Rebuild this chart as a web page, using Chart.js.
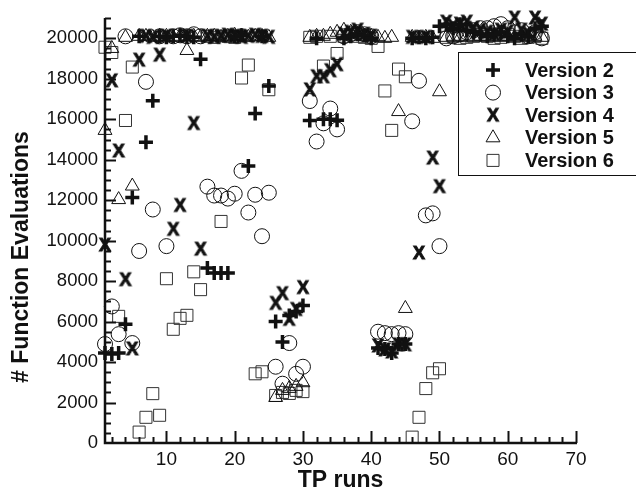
<!DOCTYPE html>
<html>
<head>
<meta charset="utf-8">
<script src="https://cdn.jsdelivr.net/npm/chart.js@4.4.1/dist/chart.umd.min.js"></script>
<style>
    html, body { margin: 0; padding: 0; background: #fff; }
    #wrap { width: 636px; height: 496px; position: relative; }
</style>
</head>
<body>
<div id="wrap"><canvas id="evalChart"></canvas></div>
<script>
// TP runs (asse X)
const runs = [1, 2, 3, 4, 5, 6, 7, 8, 9, 10, 11, 12, 13, 14, 15, 16, 17, 18, 19, 20,
    21, 22, 23, 24, 25, 26, 27, 28, 29, 30, 31, 32, 33, 34, 35, 36, 37, 38, 39, 40,
    41, 42, 43, 44, 45, 46, 47, 48, 49, 50, 51, 52, 53, 54, 55, 56, 57, 58, 59, 60,
    61, 62, 63, 64, 65];

const versionNames = ['Version 2', 'Version 3', 'Version 4', 'Version 5', 'Version 6'];

// valori (un valore per ogni run)
const version2 = [4450, 4400, 4450, 5870, 12130, 20100, 14870, 16920, 20100, 20050,
    20100, 20150, 20100, 20050, 18970, 8650, 8400, 8400, 8400, 20100,
    20150, 13690, 16280, 20100, 17650, 6010, 4990, 6300, 6500, 6800,
    15940, 20000, 16000, 16000, 15950, 20000, 20100, 20200, 20150, 20000,
    4700, 4650, 4450, 4890, 4890, 20000, 20050, 20000, 20050, 20600,
    20700, 20500, 20700, 20400, 20300, 20200, 20100, 20200, 20300, 20100,
    20000, 20200, 20100, 20500, 20600];
const version3 = [4890, 6750, 5380, 20100, 4940, 9490, 17850, 11540, 20100, 9730,
    20100, 20150, 20100, 20200, 20100, 12670, 12230, 12230, 12080, 12320,
    13450, 11390, 12270, 10220, 12370, 3770, 2930, 4940, 3420, 3770,
    16900, 14900, 15800, 16530, 15500, 20100, 20200, 20300, 20200, 20100,
    5500, 5430, 5380, 5430, 5380, 15900, 17900, 11250, 11350, 9730,
    20000, 20100, 20200, 20300, 20400, 20500, 20500, 20600, 20700, 20500,
    20300, 20400, 20100, 20300, 20000];
const version4 = [9780, 17900, 14430, 8070, 4650, 18920, 20100, 20050, 19170, 20100,
    10560, 11740, 20100, 15790, 9580, 20100, 20050, 20100, 20150, 20100,
    20050, 20100, 20150, 20100, 20050, 6900, 7380, 6110, 6600, 7680,
    17450, 18100, 18100, 18400, 18700, 20200, 20300, 20400, 20200, 20100,
    4800, 4600, 4500, 4850, 4850, 20050, 9390, 20050, 14080, 12670,
    20800, 20600, 20700, 20800, 20500, 20400, 20300, 20200, 20400, 20300,
    21000, 20400, 20200, 21000, 20700];
const version5 = [15450, 19500, 12030, 20050, 12700, 20100, 20100, 20050, 20100, 20100,
    20050, 20100, 19400, 20100, 20050, 20100, 20100, 20050, 20100, 20150,
    20100, 20050, 20100, 20100, 20050, 2250, 2600, 2700, 2800, 2980,
    20050, 20100, 20100, 20200, 20300, 20400, 20300, 20200, 20100, 20100,
    20050, 20000, 20050, 16380, 6650, 20050, 20000, 20050, 20000, 17360,
    20050, 20100, 20050, 20100, 20050, 20100, 20050, 20100, 20050, 20100,
    20050, 20100, 20050, 20100, 20050];
const version6 = [19560, 19300, 6260, 15940, 18580, 540, 1270, 2440, 1370, 8120,
    5620, 6160, 6310, 8460, 7580, 20100, 20050, 10950, 20100, 20050,
    18040, 18680, 3420, 3520, 17460, 2350, 2500, 2450, 2600, 2540,
    20050, 20100, 18630, 20100, 19250, 20100, 20200, 20100, 20050, 20000,
    19600, 17400, 15450, 18480, 18100, 290, 1270, 2690, 3470, 3670,
    20050, 20100, 20000, 20050, 20100, 20200, 20100, 20000, 20050, 20200,
    20100, 20000, 20050, 20100, 20000];

// etichette degli assi
const xTicks = [10, 20, 30, 40, 50, 60, 70];
const yTicks = [0, 2000, 4000, 6000, 8000, 10000, 12000, 14000, 16000, 18000, 20000];

const FONT = "'Liberation Sans', Arial, Helvetica, sans-serif";

// la "X" del grafico è un carattere in grassetto, la disegno su un canvas
function makeXMarker() {
    const c = document.createElement('canvas');
    c.width = 18;
    c.height = 20;
    const g = c.getContext('2d');
    g.fillStyle = '#111';
    g.strokeStyle = '#111';
    g.lineWidth = 1;
    g.font = 'bold 18px ' + FONT;
    g.textAlign = 'center';
    g.textBaseline = 'middle';
    g.fillText('X', 9, 11);
    g.strokeText('X', 9, 11);
    return c;
}

function toPoints(values) {
    return values.map((v, i) => ({ x: runs[i], y: v }));
}

// Plugin: assi con tacche verso l'interno (come nel grafico originale)
const axesPlugin = {
    id: 'insideAxes',
    afterDraw(chart) {
        const ctx = chart.ctx;
        const xs = chart.scales.x;
        const ys = chart.scales.y;
        const x0 = xs.getPixelForValue(1);
        const y0 = ys.getPixelForValue(0);
        ctx.save();
        ctx.strokeStyle = '#111';
        ctx.lineCap = 'butt';

        // tacche asse Y
        ctx.lineWidth = 2;
        for (let v = 500; v <= 21000; v += 500) {
            const py = Math.round(ys.getPixelForValue(v)) + 0.5;
            const len = v % 2000 === 0 ? 11 : 6;
            ctx.beginPath();
            ctx.moveTo(x0, py);
            ctx.lineTo(x0 + len, py);
            ctx.stroke();
        }
        // tacche asse X
        for (let v = 2; v <= 70; v += 2) {
            const px = Math.round(xs.getPixelForValue(v)) + 0.5;
            const len = v % 10 === 0 ? 12 : 6;
            ctx.beginPath();
            ctx.moveTo(px, y0);
            ctx.lineTo(px, y0 - len);
            ctx.stroke();
        }

        // linee degli assi
        ctx.lineWidth = 2.5;
        ctx.beginPath();
        ctx.moveTo(x0, ys.getPixelForValue(21000));
        ctx.lineTo(x0, y0);
        ctx.lineTo(xs.getPixelForValue(70) + 1, y0);
        ctx.stroke();

        // titolo asse Y (spostato verso il basso come nell'originale)
        ctx.save();
        ctx.translate(22, 257);
        ctx.rotate(-Math.PI / 2);
        ctx.fillStyle = '#111';
        ctx.font = 'bold 23px ' + FONT;
        ctx.textAlign = 'center';
        ctx.textBaseline = 'middle';
        ctx.fillText('# Function Evaluations', 0, 0);
        ctx.restore();

        ctx.restore();
    }
};

// Plugin: legenda dentro l'area del grafico, con il riquadro
const legendPlugin = {
    id: 'boxLegend',
    afterDraw(chart) {
        const ctx = chart.ctx;
        ctx.save();
        ctx.strokeStyle = '#111';
        ctx.lineWidth = 1;
        ctx.fillStyle = '#fff';
        ctx.fillRect(458.5, 52.5, 200, 123);
        ctx.strokeRect(458.5, 52.5, 200, 123);

        chart.data.datasets.forEach((ds, i) => {
            const y = 70 + i * 22.6;
            ctx.fillStyle = 'rgba(0,0,0,0)';
            ctx.strokeStyle = ds.borderColor;
            ctx.lineWidth = ds.borderWidth;
            Chart.helpers.drawPoint(ctx, {
                pointStyle: ds.pointStyle,
                radius: ds.pointRadius,
                borderWidth: ds.borderWidth,
                rotation: 0
            }, 493, y);
            ctx.fillStyle = '#111';
            ctx.font = 'bold 20px ' + FONT;
            ctx.textAlign = 'left';
            ctx.textBaseline = 'middle';
            ctx.fillText(ds.label, 525, y + 1);
        });
        ctx.restore();
    }
};

document.addEventListener('DOMContentLoaded', () => {
    const ctx = document.getElementById('evalChart').getContext('2d');
    const xMarker = makeXMarker();

    const base = {
        showLine: false,
        borderColor: '#111',
        backgroundColor: 'rgba(0,0,0,0)',
        clip: false
    };

    new Chart(ctx, {
        type: 'scatter',
        data: {
            datasets: [
                { ...base, label: versionNames[0], data: toPoints(version2), pointStyle: 'cross', pointRadius: 7, borderWidth: 3.5 },
                { ...base, label: versionNames[1], data: toPoints(version3), pointStyle: 'circle', pointRadius: 7.5, borderWidth: 1 },
                { ...base, label: versionNames[2], data: toPoints(version4), pointStyle: xMarker, pointRadius: 8, borderWidth: 1 },
                { ...base, label: versionNames[3], data: toPoints(version5), pointStyle: 'triangle', pointRadius: 8, borderWidth: 1 },
                { ...base, label: versionNames[4], data: toPoints(version6), pointStyle: 'rect', pointRadius: 8.5, borderWidth: 1, borderColor: '#333' }
            ]
        },
        options: {
            responsive: true,
            maintainAspectRatio: false,
            animation: false,
            events: [],
            layout: {
                padding: { left: 0, right: 60, top: 13, bottom: 0 }
            },
            plugins: {
                legend: { display: false },
                tooltip: { enabled: false }
            },
            scales: {
                x: {
                    type: 'linear',
                    min: 1,
                    max: 70,
                    afterBuildTicks: (scale) => { scale.ticks = xTicks.map(v => ({ value: v })); },
                    afterFit: (scale) => { scale.height = 53; },
                    grid: { display: false, drawTicks: false },
                    border: { display: false },
                    ticks: {
                        color: '#111',
                        padding: 5,
                        maxRotation: 0,
                        callback: (v) => String(v),
                        font: { family: FONT, size: 19 }
                    },
                    title: {
                        display: true,
                        text: 'TP runs',
                        color: '#111',
                        padding: { top: 0, bottom: 2 },
                        font: { family: FONT, size: 23, weight: 'bold' }
                    }
                },
                y: {
                    min: 0,
                    max: 21000,
                    afterBuildTicks: (scale) => { scale.ticks = yTicks.map(v => ({ value: v })); },
                    afterFit: (scale) => { scale.width = 105; },
                    grid: { display: false, drawTicks: false },
                    border: { display: false },
                    ticks: {
                        color: '#111',
                        padding: 7,
                        callback: (v) => String(v),
                        font: { family: FONT, size: 18.5 }
                    },
                    title: { display: false }
                }
            }
        },
        plugins: [axesPlugin, legendPlugin]
    });
});
</script>
</body>
</html>
